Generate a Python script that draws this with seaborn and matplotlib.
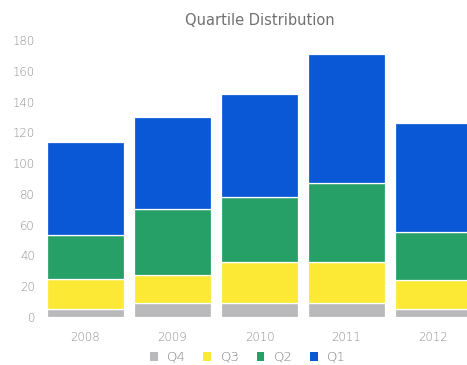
import numpy as np
import pandas as pd
import matplotlib
matplotlib.use("Agg")
import matplotlib.pyplot as plt
from matplotlib.patches import Patch
import seaborn as sns

years = ["2008", "2009", "2010", "2011", "2012"]
q4 = [5, 9, 9, 9, 5]
q3 = [20, 18, 27, 27, 19]
q2 = [28, 43, 42, 51, 31]
q1 = [61, 60, 67, 84, 71]
series_names = ["Q4", "Q3", "Q2", "Q1"]
colors = ["#b9b9bb", "#fbe936", "#27a067", "#0b58d6"]
yticks = [0, 20, 40, 60, 80, 100, 120, 140, 160, 180]

sns.set_theme(style="white")
plt.rcParams['font.family'] = ['DejaVu Sans']
plt.rcParams['font.weight'] = 'light'

fig = plt.figure(figsize=(4.67, 3.65), dpi=100)
ax = fig.add_axes([42/467, 48/365, 435/467, 277/365])

values = [q4, q3, q2, q1]
bottom = np.zeros(len(years))
for name, vals, col in zip(series_names, values, colors):
    df = pd.DataFrame({"year": years, "value": vals})
    sns.barplot(data=df, x="year", y="value", color=col, bottom=bottom,
                width=0.885, edgecolor="white", linewidth=0.9, saturation=1,
                ax=ax, errorbar=None)
    bottom = bottom + np.array(vals)

ax.set_ylim(0, 180)
ax.set_xlim(-0.5, 4.5)
ax.set_yticks(yticks)
ax.set_yticklabels([str(t) for t in yticks])
ax.set_xlabel("")
ax.set_ylabel("")
for s in ax.spines.values():
    s.set_visible(False)
ax.tick_params(axis="both", length=0, colors="#8e8e8e", labelsize=8.5)
ax.tick_params(axis="y", pad=5)
ax.tick_params(axis="x", pad=10)
ax.set_title("Quartile Distribution", fontsize=10.5, color="#707070", pad=11)

handles = [Patch(facecolor=c, edgecolor="none", label=n) for n, c in zip(series_names, colors)]
fig.legend(handles=handles, loc="center", bbox_to_anchor=(248/467, 1 - 357/365),
           ncol=4, frameon=False, fontsize=9.5, labelcolor="#808080",
           handlelength=0.6, handleheight=0.6, handletextpad=0.7, columnspacing=1.3)

fig.savefig("out.png", dpi=100)
